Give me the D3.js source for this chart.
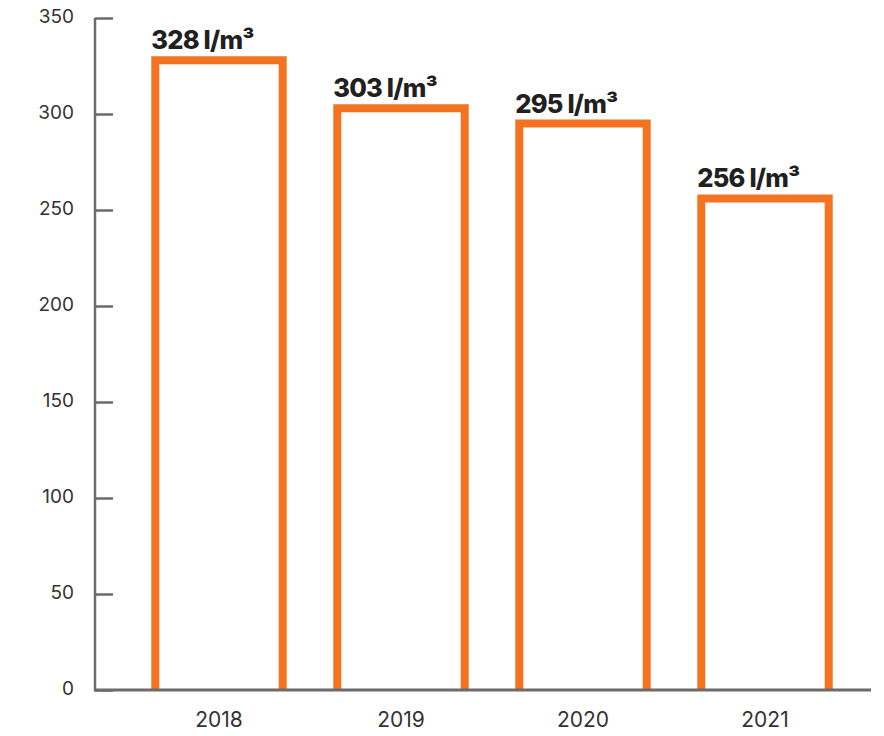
<!DOCTYPE html>
<html><head><meta charset="utf-8">
<script src="https://cdn.jsdelivr.net/npm/d3@7"></script>
<style>
html,body{margin:0;padding:0;background:#fff;}
svg{display:block;}
</style></head>
<body>
<svg id="chart" width="884" height="736"></svg>
<script>
const years = ["2018", "2019", "2020", "2021"];
const values = [328, 303, 295, 256];
const valueLabels = ["328 l/m³", "303 l/m³", "295 l/m³", "256 l/m³"];
const yTicks = [0, 50, 100, 150, 200, 250, 300, 350];

const svg = d3.select("#chart");
const x = d3.scaleBand().domain(years).range([128, 856]).paddingInner(0.3).paddingOuter(0.15);
const y = d3.scaleLinear().domain([0, 350]).range([690, 18]);
const axisColor = "#6b6b6b";
const orange = "#f47321";
const barStroke = 8;

// bars
svg.append("g").selectAll("path").data(values).join("path")
  .attr("d", (d, i) => {
    const x0 = x(years[i]) , x1 = x(years[i]) + x.bandwidth();
    const yt = y(d), yb = y(0);
    return `M${x0},${yb}V${yt}H${x1}V${yb}`;
  })
  .attr("fill", "none")
  .attr("stroke", orange)
  .attr("stroke-width", barStroke)
  .attr("stroke-linejoin", "miter");

// y axis
const yAxis = d3.axisRight(y).tickValues(yTicks).tickSize(18).tickFormat("");
const gy = svg.append("g").attr("transform", "translate(95,0)").call(yAxis);
gy.select(".domain").remove();
gy.selectAll(".tick line").attr("stroke", axisColor).attr("stroke-width", 2.5);
svg.append("line").attr("x1", 95).attr("x2", 95).attr("y1", y(350)).attr("y2", y(0) + 1)
  .attr("stroke", axisColor).attr("stroke-width", 2.5);
svg.append("g").selectAll("text").data(yTicks).join("text")
  .attr("x", 74).attr("y", d => y(d) - 2).attr("dy", "0.35em")
  .attr("text-anchor", "end")
  .attr("font-family", "Inter, sans-serif").attr("font-size", 19)
  .attr("fill", "#333")
  .text(d => d);

// x axis
const xAxis = d3.axisBottom(x).tickSize(0).tickPadding(22);
const gx = svg.append("g").attr("transform", `translate(0,${y(0)})`).call(xAxis);
gx.select(".domain").remove();
gx.selectAll(".tick text").attr("font-family", "Inter, sans-serif").attr("font-size", 21).attr("fill", "#333");
svg.append("line").attr("x1", 94).attr("x2", 871).attr("y1", y(0)).attr("y2", y(0))
  .attr("stroke", axisColor).attr("stroke-width", 3);

// value labels
svg.append("g").selectAll("text").data(values).join("text")
  .attr("x", (d, i) => x(years[i]) - barStroke / 2)
  .attr("y", d => y(d) - barStroke / 2 - 7)
  .attr("font-family", "Inter, sans-serif").attr("font-weight", 800)
  .attr("font-size", 25.5).attr("letter-spacing", "-0.8px")
  .attr("fill", "#231f20")
  .text((d, i) => valueLabels[i]);
</script>
</body></html>
